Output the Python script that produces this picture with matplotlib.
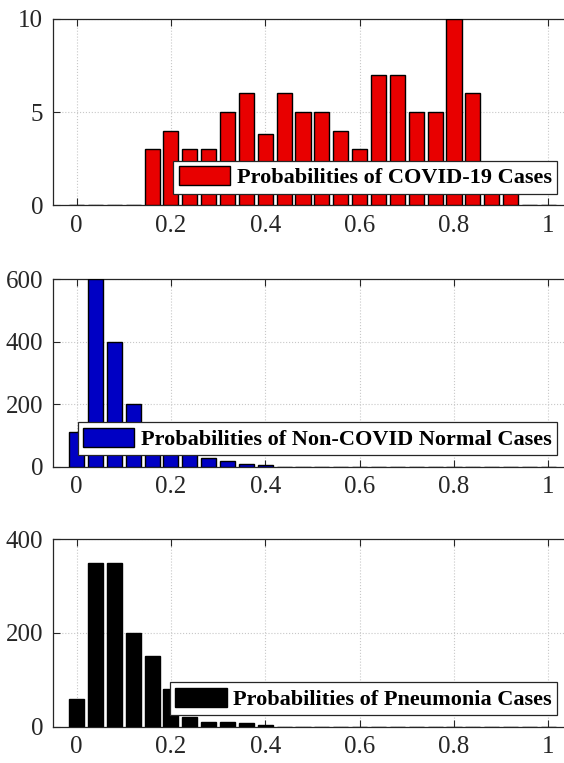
import matplotlib.pyplot as plt
import numpy as np

# --------- DATI ---------
centri = np.arange(26) * 0.04  # centri dei bin 0, 0.04, ..., 1.0

covid = [0, 0, 0, 0, 3, 4, 3, 3, 5, 6, 3.8, 6, 5, 5, 4, 3, 7, 7, 5, 5, 10, 6, 2, 2, 0, 0]
normal = [111, 600, 400, 200, 130, 90, 55, 29, 19, 10, 5, 0, 0, 0, 0, 0, 0, 0, 0, 0, 0, 0, 0, 0, 0, 0]
pneumonia = [60, 350, 350, 200, 150, 80, 20, 11, 11, 8.5, 3.5, 0, 0, 0, 0, 0, 0, 0, 0, 0, 0, 0, 0, 0, 0, 0]

etichette = ["Probabilities of COVID-19 Cases",
             "Probabilities of Non-COVID Normal Cases",
             "Probabilities of Pneumonia Cases"]
colori = ["#e80000", "#0000c4", "#000000"]
yticks = [[0, 5, 10], [0, 200, 400, 600], [0, 200, 400]]
ylims = [10, 600, 400]

plt.rcParams['font.family'] = ['Liberation Serif', 'DejaVu Serif']

fig = plt.figure(figsize=(5.64, 7.63), dpi=100)
posizioni = [
    [0.094, 0.7313, 0.920, 0.2438],
    [0.094, 0.3883, 0.920, 0.2456],
    [0.094, 0.0476, 0.920, 0.2456],
]

serie = [covid, normal, pneumonia]
for i in range(3):
    ax = fig.add_axes(posizioni[i])
    ax.bar(centri, serie[i], width=0.032, color=colori[i], edgecolor='black',
           linewidth=1.0, label=etichette[i], zorder=3)
    ax.set_xlim(-0.05, 1.05)
    ax.set_ylim(0, ylims[i])
    ax.set_xticks([0, 0.2, 0.4, 0.6, 0.8, 1])
    ax.set_xticklabels(["0", "0.2", "0.4", "0.6", "0.8", "1"])
    ax.set_yticks(yticks[i])
    ax.tick_params(direction='in', top=True, right=True, labelsize=18,
                   length=5, width=0.8, pad=7, labelcolor='#262626',
                   color='#262626')
    ax.grid(True, linestyle=':', color='#c8c8c8', linewidth=0.8, zorder=0)
    for s in ax.spines.values():
        s.set_linewidth(0.9)
        s.set_color('#262626')
    leg = ax.legend(loc='lower right', bbox_to_anchor=(0.972, 0.06),
                    prop={'weight': 'bold', 'size': 16}, fancybox=False,
                    edgecolor='#262626', framealpha=1, handlelength=2.3,
                    handleheight=0.95, borderpad=0.25, handletextpad=0.3,
                    borderaxespad=0)
    leg.get_frame().set_linewidth(0.9)
    leg.set_zorder(5)

plt.savefig("out.png", dpi=100)
